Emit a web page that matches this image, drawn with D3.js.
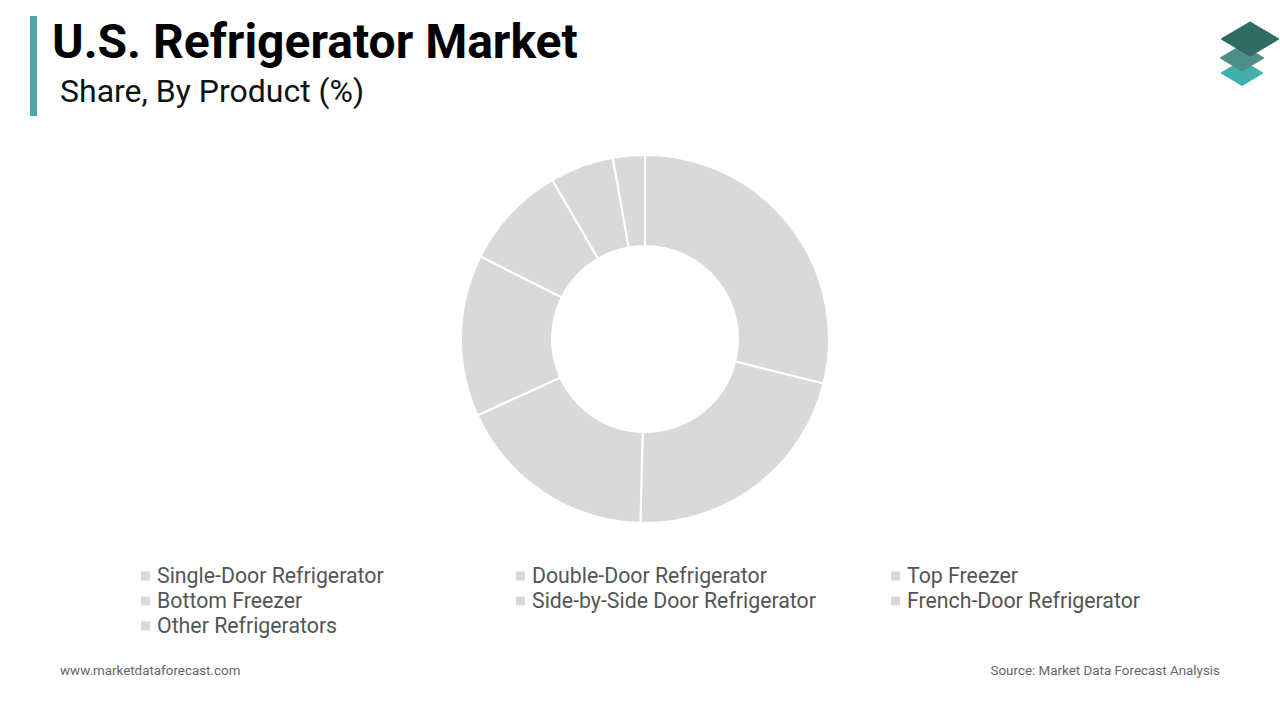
<!DOCTYPE html>
<html>
<head>
<meta charset="utf-8">
<script src="https://cdn.jsdelivr.net/npm/d3@7"></script>
<style>
  html, body { margin: 0; padding: 0; background: #ffffff; }
  svg { display: block; font-family: Roboto, "Noto Sans", sans-serif; }
</style>
</head>
<body>
<svg id="chart" width="1280" height="720"></svg>
<script>
const categories = [
  "Single-Door Refrigerator",
  "Double-Door Refrigerator",
  "Top Freezer",
  "Bottom Freezer",
  "Side-by-Side Door Refrigerator",
  "French-Door Refrigerator",
  "Other Refrigerators"
];
const shares = [28.9, 21.5, 17.8, 14.2, 9.2, 5.6, 2.8];
const title = "U.S. Refrigerator Market";
const subtitle = "Share, By Product (%)";
const footerLeft = "www.marketdataforecast.com";
const footerRight = "Source: Market Data Forecast Analysis";

const svg = d3.select("#chart");

// Accent bar
svg.append("rect").attr("x", 30).attr("y", 16).attr("width", 7).attr("height", 100).attr("fill", "#4aa8a8");

svg.append("text").attr("x", 52).attr("y", 58)
  .attr("font-size", 48).attr("font-weight", 700).attr("fill", "#000")
  .text(title);
svg.append("text").attr("x", 60).attr("y", 102)
  .attr("font-size", 32).attr("fill", "#111")
  .text(subtitle);

// Logo
const logo = svg.append("g");
function diamond(cx, cy, w, h, fill) {
  logo.append("path")
    .attr("d", `M${cx - w/2},${cy} L${cx},${cy - h/2} L${cx + w/2},${cy} L${cx},${cy + h/2} Z`)
    .attr("fill", fill).attr("stroke", fill).attr("stroke-width", 2).attr("stroke-linejoin", "round");
}
diamond(1242, 73, 40, 24, "#3fb0aa");
diamond(1242, 58, 42, 25, "#4d8f88");
diamond(1250, 39, 56, 33, "#2e6b63");

// Donut
const cx = 645, cy = 339, outerR = 184, innerR = 93;
const pie = d3.pie().sort(null).value(d => d)(shares);
const arc = d3.arc().innerRadius(innerR).outerRadius(outerR);
svg.append("g").attr("transform", `translate(${cx},${cy})`)
  .selectAll("path").data(pie).enter().append("path")
  .attr("d", arc)
  .attr("fill", "#d9d9d9")
  .attr("stroke", "#ffffff")
  .attr("stroke-width", 2);

// Legend
const colX = d3.scaleOrdinal().domain([0, 1, 2]).range([141, 516, 891]);
const rowY = d3.scaleOrdinal().domain([0, 1, 2]).range([576, 601, 626]);
const legend = svg.append("g");
categories.forEach((c, i) => {
  const col = i % 3, row = Math.floor(i / 3);
  const g = legend.append("g").attr("transform", `translate(${colX(col)},${rowY(row)})`);
  g.append("rect").attr("x", 0).attr("y", -4.5).attr("width", 9).attr("height", 9).attr("fill", "#d9d9d9");
  g.append("text").attr("x", 16).attr("y", 0).attr("dy", "0.35em")
    .attr("font-size", 21.3).attr("fill", "#555").text(c);
});

// Footer
svg.append("text").attr("x", 60).attr("y", 675).attr("font-size", 13.4).attr("fill", "#666").text(footerLeft);
svg.append("text").attr("x", 1220).attr("y", 675).attr("text-anchor", "end")
  .attr("font-size", 13.4).attr("fill", "#666").text(footerRight);
</script>
</body>
</html>
